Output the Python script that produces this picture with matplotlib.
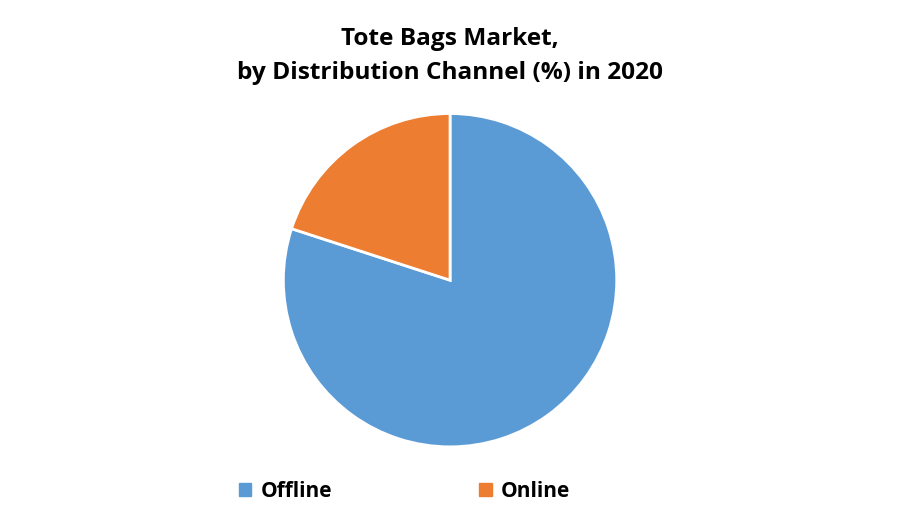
import matplotlib
matplotlib.use("Agg")
import matplotlib.pyplot as plt
from matplotlib.patches import Patch

labels = ["Offline", "Online"]
values = [80, 20]
colors = ["#5B9BD5", "#ED7D31"]

plt.rcParams['font.family'] = ['Open Sans', 'DejaVu Sans']

fig = plt.figure(figsize=(9, 5.25), dpi=100)
ax = fig.add_axes([0.3167, 0.152, 0.3667, 0.6286])
ax.pie(values, colors=colors, startangle=90, counterclock=False,
       wedgeprops=dict(edgecolor="white", linewidth=2))
ax.set_xlim(-0.99, 0.99)
ax.set_ylim(-0.99, 0.99)
ax.set_aspect("equal")

fig.text(0.5, 0.948, "Tote Bags Market,\nby Distribution Channel (%) in 2020",
         ha="center", va="top", fontsize=17.6, fontweight="bold",
         linespacing=1.55)

handles = [Patch(facecolor=c, edgecolor=c) for c in colors]
fig.legend(handles, labels, loc="center left", bbox_to_anchor=(0.265, 0.064),
           ncol=2, frameon=False, handlelength=0.6, borderpad=0, borderaxespad=0,
           handleheight=0.6, columnspacing=7.07, handletextpad=0.45,
           prop=dict(weight="bold", size=15))

fig.savefig("out.png", dpi=100)
